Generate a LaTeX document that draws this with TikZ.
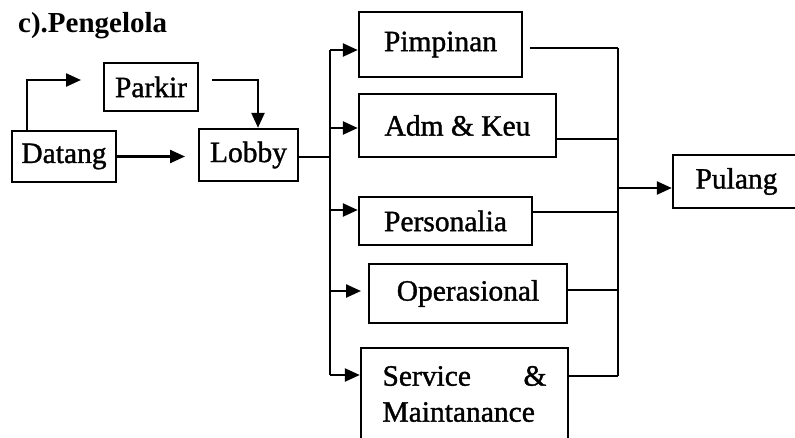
\documentclass[tikz,border=0pt]{standalone}
\usepackage{fontspec}
\setmainfont{Liberation Serif}
\newfontfamily\heavyserif[FakeBold=1.2]{Liberation Serif}
\usetikzlibrary{arrows.meta}
\begin{document}
\begin{tikzpicture}[x=1pt,y=-1pt,
  box/.style={draw,line width=2.4pt,inner sep=0pt,font=\heavyserif\fontsize{29.5pt}{36pt}\selectfont},
  conn/.style={line width=2.4pt},
  arr/.style={conn,-{Triangle[length=15pt,width=13pt]}}]
\useasboundingbox (0,0) rectangle (795,437);
\clip (0,0) rectangle (795,437);
% title
\node[anchor=base west,inner sep=0pt,font=\fontsize{29pt}{34pt}\selectfont\bfseries] (title) at (18,32) {c).Pengelola};
% boxes
\node[box,minimum width=104pt,minimum height=51pt] (datang) at (64,156.5) {Datang};
\node[box,minimum width=94pt,minimum height=48pt] (parkir) at (151,87) {Parkir};
\node[box,minimum width=99pt,minimum height=52pt] (lobby) at (248.5,155) {Lobby};
\node[box,minimum width=163pt,minimum height=65pt] (pimpinan) at (440.5,44.5) {Pimpinan};
\node[box,minimum width=197pt,minimum height=63pt] (adm) at (457.5,125.5) {Adm \& Keu};
\node[box,minimum width=173pt,minimum height=48pt] (personalia) at (445.5,221) {Personalia};
\node[box,minimum width=198pt,minimum height=59pt] (operasional) at (468,293.5) {Operasional};
\node[box,minimum width=207pt,minimum height=92pt] (service) at (464.5,394)
  {\parbox{164pt}{\baselineskip=36pt Service\hfill\&\\Maintanance}};
\node[box,minimum width=127pt,minimum height=53pt] (pulang) at (736.5,181.5) {Pulang};
% free ends and junctions
\coordinate (pkin) at (81,80);
\coordinate (pkout) at (212,80);
\coordinate (lbin) at (185,156.5);
\coordinate (lbus) at (330,157);
\coordinate (j1) at (330,50);
\coordinate (j2) at (330,128);
\coordinate (j3) at (330,210);
\coordinate (j4) at (330,291);
\coordinate (j5) at (330,375);
\coordinate (opin) at (361,291);
\coordinate (pimout) at (530,48);
\coordinate (r1) at (618,48);
\coordinate (r2) at (618,139);
\coordinate (r3) at (618,212);
\coordinate (r4) at (618,290);
\coordinate (r5) at (618,376);
\coordinate (r6) at (618,188);
% left part
\draw[arr] ([xshift=16pt]datang.north west) |- (pkin);
\draw[arr] (pkout) -| ([xshift=9.5pt]lobby.north);
\draw[arr] (datang.east) -- (lbin);
\draw[conn] (lobby.east |- lbus) -- (lbus);
% left bus
\draw[conn] (j1) -- (j5);
\draw[arr] (j1) -- (j1 -| pimpinan.west);
\draw[arr] (j2) -- (j2 -| adm.west);
\draw[arr] (j3) -- (j3 -| personalia.west);
\draw[arr] (j4) -- (opin);
\draw[arr] (j5) -- (j5 -| service.west);
% right bus
\draw[conn] (pimout) -- (r1);
\draw[conn] (r2 -| adm.east) -- (r2);
\draw[conn] (r3 -| personalia.east) -- (r3);
\draw[conn] (r4 -| operasional.east) -- (r4);
\draw[conn] (r5 -| service.east) -- (r5);
\draw[conn] (r1) -- (r5);
\draw[arr] (r6) -- (r6 -| pulang.west);
\end{tikzpicture}
\end{document}
